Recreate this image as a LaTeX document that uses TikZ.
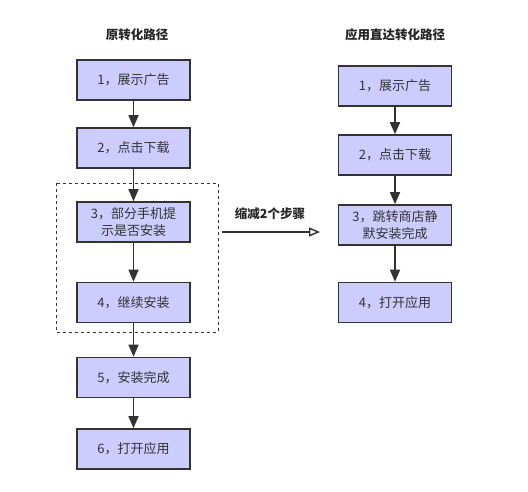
\documentclass[tikz,border=0pt]{standalone}
\usepackage{fontspec}
\newfontfamily\cjk{Noto Sans CJK SC}
\usetikzlibrary{arrows.meta}

\begin{document}
\begin{tikzpicture}[x=1pt,y=-1pt,
	stepbox/.style={draw=black!80,line width=1.6pt,fill=blue!20!white,minimum width=113pt,minimum height=40pt,inner sep=1pt,align=center,text=black!80,font=\cjk\fontsize{13}{17}\selectfont},
	title/.style={font=\cjk\bfseries\fontsize{12.5}{15}\selectfont,text=black!85},
	flow/.style={draw=black!80,line width=1.6pt,-{Triangle[length=12pt,width=10pt]}},
	cut/.style={draw=black!80,line width=1.4pt,-{Triangle[open,length=11pt,width=9pt]}}]
	\useasboundingbox (0,0) rectangle (528,491);

	% original path
	\node[title] (tl) at (137,35) {原转化路径};
	\node[stepbox] (l1) at (133.5,80) {1，展示广告};
	\node[stepbox] (l2) at (133.5,148) {2，点击下载};
	\node[stepbox] (l3) at (133.5,222) {3，部分手机提\\示是否安装};
	\node[stepbox] (l4) at (133.5,302.5) {4，继续安装};
	\node[stepbox] (l5) at (133.5,377.5) {5，安装完成};
	\node[stepbox] (l6) at (133.5,449) {6，打开应用};
	\draw[dashed,black!80,line width=0.8pt] (56,183) rectangle (218,332);

	\draw[flow] (l1) -- (l2);
	\draw[flow] (l2) -- (l3);
	\draw[flow] (l3) -- (l4);
	\draw[flow] (l4) -- (l5);
	\draw[flow] (l5) -- (l6);

	% direct path
	\node[title] (tr) at (395,35) {应用直达转化路径};
	\node[stepbox] (r1) at (395,86) {1，展示广告};
	\node[stepbox] (r2) at (395,155) {2，点击下载};
	\node[stepbox] (r3) at (395,225) {3，跳转商店静\\默安装完成};
	\node[stepbox] (r4) at (395,302.5) {4，打开应用};

	\draw[flow] (r1) -- (r2);
	\draw[flow] (r2) -- (r3);
	\draw[flow] (r3) -- (r4);

	% skipped steps
	\coordinate (cs) at (222,232);
	\coordinate (ce) at (320,232);
	\draw[cut] (cs) -- (ce);
	\node[title] (cl) at (270,214) {缩减2个步骤};
\end{tikzpicture}
\end{document}
